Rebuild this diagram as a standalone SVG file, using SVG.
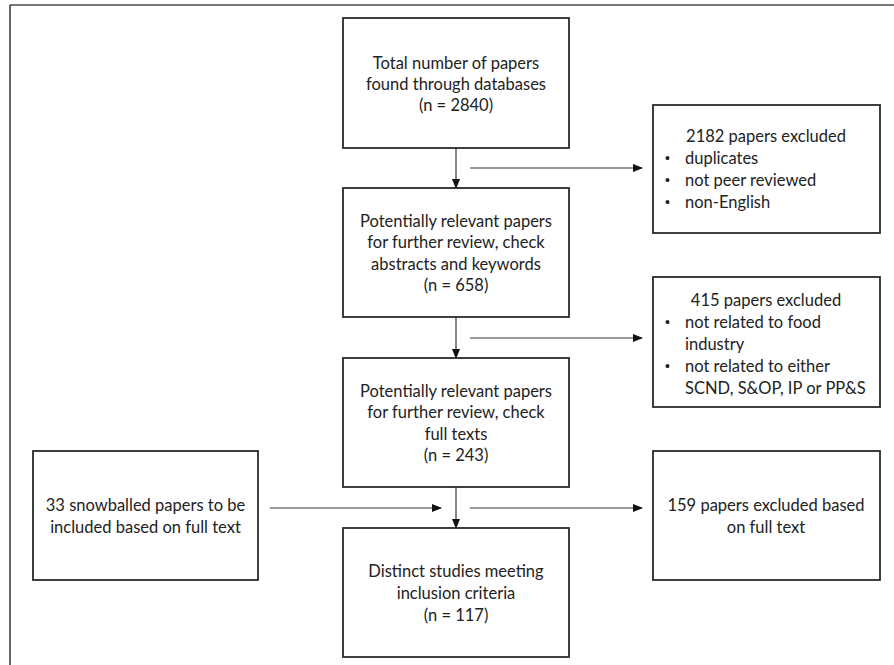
<svg xmlns="http://www.w3.org/2000/svg" width="894" height="665" viewBox="0 0 894 665">
<style>
.box{fill:#fff;stroke:#2b2b2b;stroke-width:1.8}
.t{font-family:Lato,"Liberation Sans",sans-serif;font-size:16.5px;fill:#222;text-anchor:middle}
.l{font-family:Lato,"Liberation Sans",sans-serif;font-size:16.5px;fill:#222}
.b{font-family:"Liberation Sans",sans-serif;font-size:14px;fill:#222}
.c{stroke:#333;stroke-width:1.2;fill:none}
</style>
<defs>
<marker id="ah" markerWidth="10" markerHeight="8" refX="9" refY="4" orient="auto" markerUnits="userSpaceOnUse">
<path d="M0,0 L10,4 L0,8 Z" fill="#111"/>
</marker>
</defs>
<rect width="894" height="665" fill="#fff"/>
<line x1="10" y1="5" x2="894" y2="5" stroke="#777" stroke-width="2"/>
<line x1="10" y1="5" x2="10" y2="665" stroke="#333" stroke-width="1.5"/>

<g id="connectors">
<line class="c" x1="456" y1="148" x2="456" y2="188" marker-end="url(#ah)"/>
<line class="c" x1="470" y1="168" x2="642" y2="168" marker-end="url(#ah)"/>
<line class="c" x1="456" y1="317" x2="456" y2="358" marker-end="url(#ah)"/>
<line class="c" x1="470" y1="338" x2="642" y2="338" marker-end="url(#ah)"/>
<line class="c" x1="456" y1="487" x2="456" y2="528" marker-end="url(#ah)"/>
<line class="c" x1="270" y1="508" x2="441" y2="508" marker-end="url(#ah)"/>
<line class="c" x1="470" y1="508" x2="642" y2="508" marker-end="url(#ah)"/>
</g>

<g id="n1">
<rect class="box" x="343" y="18" width="226" height="130"/>
<text class="t" x="456" y="69">Total number of papers</text>
<text class="t" x="456" y="90">found through databases</text>
<text class="t" x="456" y="111">(n = 2840)</text>
</g>

<g id="e1">
<rect class="box" x="653" y="105" width="227" height="128"/>
<text class="t" x="766" y="142">2182 papers excluded</text>
<text class="b" x="665" y="163">•</text><text class="l" x="685" y="164">duplicates</text>
<text class="b" x="665" y="185">•</text><text class="l" x="685" y="186">not peer reviewed</text>
<text class="b" x="665" y="207">•</text><text class="l" x="685" y="208">non-English</text>
</g>

<g id="n2">
<rect class="box" x="343" y="188" width="226" height="129"/>
<text class="t" x="456" y="227">Potentially relevant papers</text>
<text class="t" x="456" y="248">for further review, check</text>
<text class="t" x="456" y="270">abstracts and keywords</text>
<text class="t" x="456" y="291">(n = 658)</text>
</g>

<g id="e2">
<rect class="box" x="653" y="277" width="227" height="130"/>
<text class="t" x="766" y="306">415 papers excluded</text>
<text class="b" x="665" y="327">•</text><text class="l" x="685" y="328">not related to food</text>
<text class="l" x="685" y="350">industry</text>
<text class="b" x="665" y="371">•</text><text class="l" x="685" y="372">not related to either</text>
<text class="l" x="685" y="394">SCND, S&amp;OP, IP or PP&amp;S</text>
</g>

<g id="n3">
<rect class="box" x="343" y="358" width="226" height="129"/>
<text class="t" x="456" y="397">Potentially relevant papers</text>
<text class="t" x="456" y="418">for further review, check</text>
<text class="t" x="456" y="440">full texts</text>
<text class="t" x="456" y="461">(n = 243)</text>
</g>

<g id="s1">
<rect class="box" x="33" y="451" width="225" height="129"/>
<text class="t" x="145.5" y="511">33 snowballed papers to be</text>
<text class="t" x="145.5" y="533">included based on full text</text>
</g>

<g id="e3">
<rect class="box" x="653" y="451" width="227" height="129"/>
<text class="t" x="766" y="511">159 papers excluded based</text>
<text class="t" x="766" y="533">on full text</text>
</g>

<g id="n4">
<rect class="box" x="343" y="528" width="226" height="129"/>
<text class="t" x="456" y="577">Distinct studies meeting</text>
<text class="t" x="456" y="599">inclusion criteria</text>
<text class="t" x="456" y="621">(n = 117)</text>
</g>
</svg>
